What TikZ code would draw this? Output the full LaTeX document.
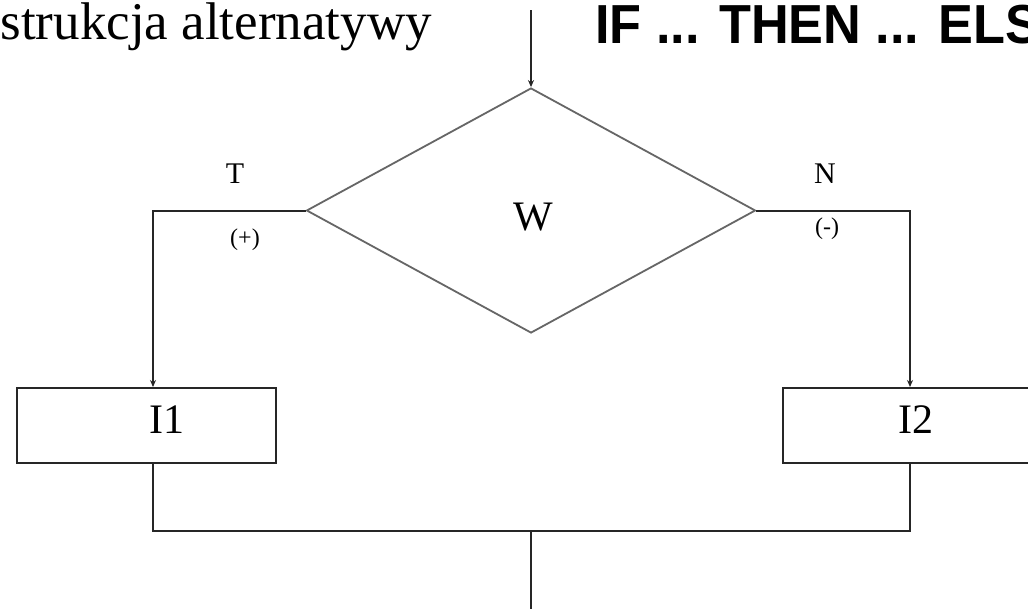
\documentclass[tikz,border=0pt]{standalone}
\usepackage{fontspec}
\setmainfont{Liberation Serif}
\newfontfamily\headsans{Liberation Sans}
\usetikzlibrary{shapes.geometric,arrows.meta}
\begin{document}
\begin{tikzpicture}[x=1pt,y=-1pt,
  conn/.style={draw=black!85,line width=2pt},
  arr/.style={-{Stealth[length=7pt,width=6pt]}},
  dia/.style={diamond,draw=black!60,line width=1.8pt,inner sep=0pt,minimum width=449pt,minimum height=245pt},
  instr/.style={rectangle,draw=black!85,line width=2pt,inner sep=0pt,minimum height=75pt},
  lbl/.style={font=\fontsize{30}{32}\selectfont,inner sep=0pt},
  sgn/.style={font=\fontsize{24}{26}\selectfont,inner sep=0pt},
  big/.style={font=\fontsize{42}{44}\selectfont,inner sep=0pt}
]
\useasboundingbox (0,0) rectangle (1028,608);
\clip (0,0) rectangle (1028,608);
\fill[white] (0,0) rectangle (1028,608);

\node[anchor=base east,inner sep=0pt,font=\fontsize{53}{55}\selectfont] (title) at (432,39) {strukcja alternatywy};
\node[anchor=base west,inner sep=0pt,font=\headsans\bfseries\fontsize{55}{57}\selectfont] (head) at (595,43) {\scalebox{0.95}[1]{IF ... THEN ... ELS}};

\node[dia] (W) at (531,210.5) {};
\node[big,anchor=base] (Wt) at (533,230) {W};

\node[instr,minimum width=259pt] (I1) at (146.5,425.5) {};
\node[big,anchor=base] (I1t) at (167,433) {I1};
\node[instr,minimum width=262pt] (I2) at (914,425.5) {};
\node[big,anchor=base] (I2t) at (916,433) {I2};

\node[lbl,anchor=base] (T) at (235,183) {T};
\node[lbl,anchor=base] (N) at (825,183) {N};
\node[sgn] (plus) at (245,240) {(+)};
\node[sgn] (minus) at (827,229) {(-)};

\coordinate (in) at (531,10);
\coordinate (join) at (531,531);
\coordinate (out) at (531,612);

\draw[conn,arr] (in) -- (W.north);
\draw[conn,arr] (W.west) -| ([xshift=6.5pt]I1.north);
\draw[conn,arr] (W.east) -| ([xshift=-4pt]I2.north);
\draw[conn] ([xshift=6.5pt]I1.south) |- (join);
\draw[conn] ([xshift=-4pt]I2.south) |- (join);
\draw[conn] (join) -- (out);
\end{tikzpicture}
\end{document}
